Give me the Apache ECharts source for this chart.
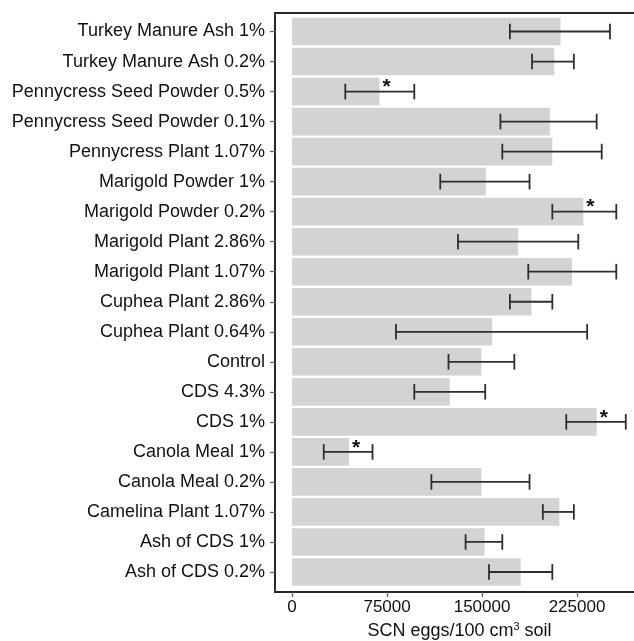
<!DOCTYPE html>
<html>
<head>
<meta charset="utf-8">
<script src="https://cdn.jsdelivr.net/npm/echarts@6/dist/echarts.min.js"></script>
<style>
html,body{margin:0;padding:0;background:#fff;}
#chart{width:634px;height:641px;}
</style>
</head>
<body>
<div id="chart"></div>
<script>
// Categories listed top to bottom
var categories = [
  'Turkey Manure Ash 1%',
  'Turkey Manure Ash 0.2%',
  'Pennycress Seed Powder 0.5%',
  'Pennycress Seed Powder 0.1%',
  'Pennycress Plant 1.07%',
  'Marigold Powder 1%',
  'Marigold Powder 0.2%',
  'Marigold Plant 2.86%',
  'Marigold Plant 1.07%',
  'Cuphea Plant 2.86%',
  'Cuphea Plant 0.64%',
  'Control',
  'CDS 4.3%',
  'CDS 1%',
  'Canola Meal 1%',
  'Canola Meal 0.2%',
  'Camelina Plant 1.07%',
  'Ash of CDS 1%',
  'Ash of CDS 0.2%'
];
var means   = [212000, 207000, 69000, 203500, 205500, 153000, 230000, 178500, 221000, 189000, 158000, 149500, 124500, 240500, 45000, 149500, 211000, 152000, 180500];
var errLow  = [172000, 189500, 42000, 164500, 166000, 117000, 205500, 131000, 186500, 172000, 82000, 123500, 96500, 216500, 25000, 110000, 198000, 137000, 155500];
var errHigh = [251000, 222500, 96500, 240500, 244500, 187500, 256000, 226000, 256000, 205500, 233000, 175500, 152500, 263500, 63500, 187500, 222500, 166000, 205500];
var significant = [false, false, true, false, false, false, true, false, false, false, false, false, false, true, true, false, false, false, false];
var xTicks = [0, 75000, 150000, 225000];
var xMin = -13500, xMax = 300000;
var xAxisTitle = 'SCN eggs/100 cm';
var xAxisTitleSup = '3';
var xAxisTitleEnd = ' soil';

var FONT = "'Liberation Sans', Arial, Helvetica, sans-serif";
var chart = echarts.init(document.getElementById('chart'), null, {renderer: 'canvas'});

var errData = categories.map(function (c, i) { return [errLow[i], errHigh[i], i]; });

var GRID_LEFT = 275, GRID_RIGHT = -38;

var option = {
  backgroundColor: '#ffffff',
  animation: false,
  grid: [
    {left: GRID_LEFT, right: GRID_RIGHT, top: 16.5, bottom: 54, containLabel: false, outerBoundsMode: 'none'},
    {left: GRID_LEFT, right: GRID_RIGHT, top: 13, bottom: 49, show: true, borderColor: '#262626', borderWidth: 1.8,
     backgroundColor: 'transparent', containLabel: false, outerBoundsMode: 'none'}
  ],
  xAxis: [
    {
      type: 'value', gridIndex: 0, min: xMin, max: xMax, show: false
    },
    {
      type: 'value', gridIndex: 1, min: xMin, max: xMax,
      axisLine: {show: true, onZero: false, lineStyle: {color: '#262626', width: 1.8}},
      axisTick: {show: true, length: 5, customValues: xTicks, lineStyle: {color: '#666', width: 1.3}},
      axisLabel: {fontFamily: FONT, fontSize: 17, color: '#111', margin: 7, customValues: xTicks,
        formatter: function (v) { return String(v); }},
      splitLine: {show: false},
      name: '{a|' + xAxisTitle + '}{s|' + xAxisTitleSup + '}{a|' + xAxisTitleEnd + '}',
      nameLocation: 'middle', nameGap: 29,
      nameTextStyle: {
        padding: [0, 28, 0, 0],
        rich: {
          a: {fontFamily: FONT, fontSize: 18, color: '#111', lineHeight: 20},
          s: {fontFamily: FONT, fontSize: 11, color: '#111', lineHeight: 11, verticalAlign: 'top'}
        }
      }
    }
  ],
  yAxis: [
    {
      type: 'category', gridIndex: 0, data: categories, inverse: true,
      axisLine: {show: true, onZero: false, lineStyle: {color: '#262626', width: 1.8}},
      axisTick: {show: true, alignWithLabel: true, inside: false, length: 5, lineStyle: {color: '#666', width: 1.3}},
      axisLabel: {fontFamily: FONT, fontSize: 18, color: '#111', margin: 10, interval: 0},
      splitLine: {show: false}
    },
    {type: 'value', gridIndex: 1, show: false, min: 0, max: 1}
  ],
  series: [
    {
      type: 'bar', xAxisIndex: 0, yAxisIndex: 0,
      data: means,
      barCategoryGap: '8%',
      itemStyle: {color: '#d3d3d3'},
      label: {
        show: true, position: 'right', distance: 2, offset: [1, -4],
        fontFamily: FONT, fontSize: 21, fontWeight: 'bold', color: '#111',
        formatter: function (p) { return significant[p.dataIndex] ? '*' : ''; }
      },
      z: 2
    },
    {
      type: 'custom', xAxisIndex: 0, yAxisIndex: 0,
      data: errData,
      encode: {x: [0, 1], y: 2},
      clip: false,
      z: 3,
      renderItem: function (params, api) {
        var cat = api.value(2);
        var p1 = api.coord([api.value(0), cat]);
        var p2 = api.coord([api.value(1), cat]);
        var h = api.size([0, 1])[1] * 0.26;
        var st = {stroke: '#2e2e2e', lineWidth: 1.8};
        return {
          type: 'group',
          children: [
            {type: 'line', shape: {x1: p1[0], y1: p1[1], x2: p2[0], y2: p2[1]}, style: st},
            {type: 'line', shape: {x1: p1[0], y1: p1[1] - h, x2: p1[0], y2: p1[1] + h}, style: st},
            {type: 'line', shape: {x1: p2[0], y1: p2[1] - h, x2: p2[0], y2: p2[1] + h}, style: st}
          ]
        };
      }
    }
  ]
};
chart.setOption(option);
</script>
</body>
</html>
